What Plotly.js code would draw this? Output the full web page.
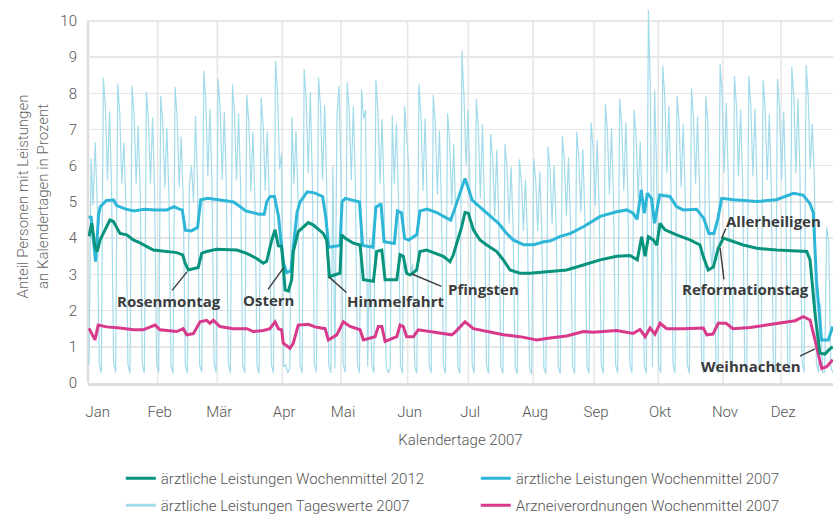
<!DOCTYPE html>
<html>
<head>
<meta charset="utf-8">
<script src="https://cdn.plot.ly/plotly-3.0.1.min.js"></script>
<style>html,body{margin:0;padding:0;background:#fff;}#chart{width:833px;height:519px;}</style>
</head>
<body>
<div id="chart"></div>
<script>
// ---- data (x = day of year 2007, 0 = 1 Jan) ----
const monthLabels = ['Jan','Feb','Mär','Apr','Mai','Jun','Jul','Aug','Sep','Okt','Nov','Dez'];
const monthTickDays = [3.3, 33.5, 62.6, 94.3, 123, 155.5, 185.1, 216.8, 246.5, 277.8, 309.4, 337.8];

const seriesNames = [
  'ärztliche Leistungen Wochenmittel 2012',
  'ärztliche Leistungen Wochenmittel 2007',
  'ärztliche Leistungen Tageswerte 2007',
  'Arzneiverordnungen Wochenmittel 2007'
];

// daily values 2007 (one per day, Mon..Sun per row)
const dailyValues2007 = [
  0.5, 6.2, 4.9, 6.65, 5.0, 0.5, 0.28,
  8.43, 7.6, 5.6, 7.5, 5.4, 0.55, 0.3,
  8.27, 7.45, 5.5, 6.65, 5.0, 0.5, 0.27,
  8.2, 7.4, 5.5, 7.1, 5.2, 0.5, 0.28,
  8.05, 7.25, 5.5, 7.33, 5.3, 0.52, 0.3,
  7.93, 7.15, 5.4, 7.05, 5.1, 0.5, 0.27,
  8.17, 7.35, 5.4, 6.8, 5.0, 0.48, 0.28,
  5.5, 6.0, 5.0, 7.37, 5.4, 0.5, 0.3,
  8.63, 7.8, 5.7, 7.57, 5.5, 0.55, 0.3,
  8.4, 7.6, 5.6, 7.48, 5.4, 0.52, 0.28,
  8.25, 7.45, 5.6, 7.45, 5.4, 0.5, 0.28,
  7.96, 7.2, 5.3, 6.93, 5.0, 0.48, 0.27,
  7.87, 7.1, 5.3, 6.95, 5.0, 0.5, 0.28,
  8.89, 8.0, 5.9, 6.35, 0.45, 0.5, 0.28,
  0.4, 7.34, 5.5, 6.96, 5.1, 0.5, 0.28,
  8.67, 7.8, 5.8, 8.03, 5.6, 0.52, 0.3,
  8.44, 7.6, 5.6, 7.67, 5.5, 0.5, 0.28,
  5.98, 0.4, 7.4, 8.2, 5.7, 0.52, 0.3,
  8.3, 7.5, 5.6, 7.65, 5.5, 0.5, 0.28,
  8.11, 7.3, 7.54, 0.45, 4.0, 0.5, 0.28,
  8.37, 7.5, 5.5, 7.29, 5.2, 0.5, 0.28,
  0.4, 7.4, 5.5, 7.17, 5.1, 0.5, 0.27,
  7.65, 6.9, 6.0, 3.0, 3.3, 0.45, 0.27,
  8.25, 7.4, 5.3, 7.31, 5.1, 0.5, 0.28,
  7.96, 7.15, 5.2, 6.97, 4.9, 0.48, 0.27,
  7.45, 6.7, 4.9, 6.6, 4.6, 0.45, 0.26,
  9.18, 7.9, 6.0, 7.54, 5.3, 0.5, 0.28,
  7.84, 7.05, 5.1, 7.15, 4.9, 0.48, 0.27,
  6.88, 6.2, 4.6, 6.44, 4.5, 0.45, 0.26,
  6.6, 5.95, 4.4, 5.98, 4.2, 0.42, 0.25,
  6.18, 5.6, 4.2, 5.61, 4.0, 0.42, 0.25,
  6.2, 5.6, 4.2, 5.84, 4.1, 0.42, 0.25,
  6.53, 5.9, 4.4, 6.0, 4.3, 0.44, 0.26,
  6.82, 6.15, 4.6, 6.22, 4.4, 0.45, 0.26,
  6.94, 6.25, 4.7, 6.46, 4.6, 0.46, 0.27,
  7.19, 6.5, 4.9, 6.71, 4.8, 0.48, 0.27,
  7.7, 6.95, 5.2, 7.04, 5.0, 0.5, 0.28,
  7.85, 7.1, 5.3, 7.2, 5.1, 0.5, 0.28,
  7.54, 6.8, 5.1, 6.67, 4.8, 0.48, 0.27,
  10.3, 8.0, 0.45, 8.09, 6.0, 0.5, 0.28,
  8.76, 7.9, 5.8, 7.65, 5.5, 0.52, 0.28,
  7.93, 7.15, 5.4, 7.15, 5.1, 0.5, 0.27,
  8.14, 7.35, 5.5, 7.36, 5.3, 0.5, 0.28,
  7.94, 7.2, 4.0, 3.2, 4.2, 0.45, 0.27,
  8.81, 7.95, 5.8, 7.73, 5.6, 0.52, 0.28,
  8.48, 7.65, 5.7, 7.56, 5.5, 0.5, 0.28,
  8.48, 7.65, 5.7, 7.57, 5.5, 0.5, 0.28,
  8.37, 7.55, 5.6, 7.43, 5.4, 0.5, 0.28,
  8.4, 7.6, 5.6, 7.5, 5.4, 0.52, 0.28,
  8.74, 7.9, 5.8, 7.85, 5.7, 0.55, 0.3,
  8.78, 7.9, 5.9, 7.15, 5.6, 0.55, 0.3,
  2.2, 0.3, 0.3, 4.3, 3.9, 0.45, 0.28
];

// weekly mean 2012 (green)
const wm2012Days = [0, 1.3, 2.9, 4, 5.4, 8.6, 10.2, 11.9, 13.5, 15.1, 18.4, 21.6, 24.9, 28.2, 31.4, 34.7, 39.5, 42.8, 45.7, 46.9, 48.5, 50.9, 53.3, 55, 57.4, 62.3, 67.2, 72.1, 77, 81.8, 85.1, 86.7, 89.2, 90.8, 92.4, 94, 94.8, 95.7, 97.3, 98.9, 99.7, 102.1, 107, 109.5, 114.3, 116, 117.3, 122.5, 123.3, 124.9, 129, 132.3, 133.9, 138.8, 140.4, 142.9, 144.5, 150.2, 151.8, 153.4, 155, 156.7, 159.9, 161.5, 164.8, 169.7, 172.9, 176.2, 177.8, 181.9, 183.5, 185.1, 187.6, 190.8, 194.1, 199, 202.2, 205.5, 210.3, 215.2, 225, 233.1, 241.3, 249.4, 257.5, 264, 267.6, 269.7, 271.4, 273, 275.4, 277.1, 278.7, 281.1, 286.8, 293.3, 298.2, 299.8, 302.2, 304.7, 307.1, 309.6, 319.3, 325.9, 335.6, 345.4, 350.3, 351.9, 354.3, 356.7, 359.2, 360.8, 363];
const wm2012Values = [4.05, 4.41, 3.77, 3.63, 3.95, 4.32, 4.5, 4.46, 4.3, 4.13, 4.09, 3.95, 3.87, 3.77, 3.67, 3.65, 3.63, 3.6, 3.54, 3.31, 3.12, 3.16, 3.19, 3.58, 3.63, 3.69, 3.69, 3.67, 3.58, 3.44, 3.31, 3.36, 3.95, 4.23, 3.79, 3.77, 3.21, 2.57, 2.54, 2.85, 3.63, 4.18, 4.43, 4.36, 4.13, 3.95, 2.94, 3.03, 4.09, 4.0, 3.86, 3.81, 2.85, 2.81, 3.63, 3.67, 2.85, 2.85, 3.54, 3.5, 3.03, 2.98, 3.12, 3.63, 3.67, 3.58, 3.5, 3.35, 3.54, 4.32, 4.71, 4.69, 4.23, 3.95, 3.81, 3.63, 3.4, 3.12, 3.03, 3.03, 3.07, 3.12, 3.26, 3.4, 3.5, 3.52, 3.4, 4.04, 3.5, 4.04, 3.95, 3.81, 4.41, 4.23, 4.09, 3.95, 3.81, 3.49, 3.12, 3.2, 3.72, 4.0, 3.81, 3.72, 3.67, 3.63, 3.63, 3.4, 1.93, 0.82, 0.8, 0.9, 1.0];

// weekly mean 2007 (cyan)
const wm2007Days = [0, 1, 3.2, 4.7, 5.5, 8.5, 12, 13.5, 18, 22, 27, 32, 38, 41.5, 44, 45.5, 47, 50, 53, 54.5, 58, 65, 70.5, 73, 76.5, 83, 85.5, 86.7, 88.4, 90.5, 92.5, 93.5, 95, 96.5, 98.5, 100, 101.5, 103, 106.5, 110, 114, 115.5, 117, 122.5, 123.5, 125, 129, 132, 133.5, 138.5, 140, 142.5, 144, 149, 150.5, 152.5, 154, 156, 160, 161.5, 165, 170, 173, 176.5, 177.5, 181.5, 183.5, 185, 187, 190, 193, 197, 200, 203.5, 207, 212, 217, 222, 225, 230, 235, 241.5, 249.5, 257.5, 262.5, 265.5, 267.5, 269.5, 271, 272.5, 274.5, 276, 278.5, 283.5, 286.7, 290, 296.5, 300, 302.5, 305, 307, 308.8, 314.5, 326, 335.5, 343.8, 348.5, 351.8, 353.5, 355, 357.5, 360.8, 363];
const wm2007Values = [4.55, 4.6, 3.35, 4.65, 4.87, 5.04, 5.05, 4.9, 4.8, 4.75, 4.8, 4.78, 4.78, 4.87, 4.8, 4.78, 4.22, 4.2, 4.3, 5.06, 5.1, 5.05, 5.0, 4.9, 4.75, 4.66, 4.66, 5.0, 5.15, 5.15, 4.6, 4.0, 3.3, 3.05, 3.1, 3.9, 4.7, 5.0, 5.28, 5.25, 5.15, 4.6, 3.75, 3.8, 5.0, 5.1, 5.05, 5.0, 3.8, 3.75, 4.85, 4.95, 3.9, 3.85, 4.75, 4.7, 4.0, 3.95, 4.1, 4.75, 4.8, 4.7, 4.6, 4.5, 4.65, 5.3, 5.65, 5.4, 5.05, 4.9, 4.75, 4.55, 4.4, 4.15, 3.95, 3.82, 3.82, 3.9, 3.92, 4.05, 4.13, 4.32, 4.6, 4.73, 4.78, 4.69, 4.52, 5.33, 4.69, 5.24, 5.1, 4.41, 5.19, 5.15, 4.87, 4.78, 4.8, 4.55, 4.13, 4.13, 4.56, 5.1, 5.06, 5.01, 5.06, 5.24, 5.19, 4.96, 4.7, 2.85, 1.19, 1.19, 1.56];

// Arzneiverordnungen weekly mean 2007 (magenta)
const arz2007Days = [0, 2.9, 4.5, 8.6, 15.1, 21.6, 26.4, 32.2, 34.7, 42.8, 46, 47.7, 50.9, 54.2, 57.4, 59, 60.7, 63.9, 70.4, 77, 80.2, 85.1, 88.3, 90.8, 92.4, 94, 94.8, 98.1, 99.7, 102.1, 107, 110.3, 115.2, 116.8, 120.9, 124.1, 127.4, 132.3, 133.9, 139.6, 141.2, 142.9, 144.5, 150.2, 151.8, 153.4, 155, 158.3, 160.7, 166.4, 172.9, 177, 178.6, 183.5, 187.6, 194.1, 202.2, 210.3, 218.5, 225, 233.1, 241.3, 246, 257.5, 265.6, 268.9, 271.4, 273.8, 276.2, 278.7, 281.9, 290, 299.8, 301.5, 304.5, 307.1, 310.9, 314.3, 322.6, 330.7, 338.9, 344.6, 348.6, 351.9, 354.3, 357.6, 360, 363];
const arz2007Values = [1.51, 1.19, 1.6, 1.55, 1.52, 1.47, 1.47, 1.6, 1.47, 1.42, 1.5, 1.33, 1.36, 1.69, 1.73, 1.65, 1.73, 1.56, 1.5, 1.5, 1.42, 1.45, 1.5, 1.69, 1.5, 1.47, 1.1, 0.96, 1.1, 1.6, 1.62, 1.55, 1.5, 1.19, 1.33, 1.69, 1.56, 1.47, 1.19, 1.28, 1.56, 1.56, 1.15, 1.28, 1.6, 1.56, 1.28, 1.28, 1.47, 1.42, 1.38, 1.33, 1.4, 1.69, 1.5, 1.42, 1.33, 1.28, 1.19, 1.24, 1.3, 1.42, 1.4, 1.45, 1.37, 1.48, 1.28, 1.52, 1.35, 1.65, 1.5, 1.5, 1.52, 1.33, 1.35, 1.65, 1.65, 1.5, 1.53, 1.6, 1.68, 1.72, 1.83, 1.74, 1.19, 0.4, 0.45, 0.64];

const holidayLabels = ['Rosenmontag', 'Ostern', 'Himmelfahrt', 'Pfingsten', 'Allerheiligen', 'Reformationstag', 'Weihnachten'];

// ---- chart ----
const colGreen = '#07937c', colCyan = '#2db6d7', colLight = '#a3dbeb', colMag = '#d8398a';
const dailyDays = dailyValues2007.map((v, i) => i);
const legFont = {family: 'Roboto', size: 15, color: '#555', weight: 300};

const traces = [
  {x: dailyDays, y: dailyValues2007, type: 'scatter', mode: 'lines', line: {color: colLight, width: 1.2}, showlegend: false, hoverinfo: 'skip'},
  {x: wm2007Days, y: wm2007Values, type: 'scatter', mode: 'lines', name: seriesNames[1], line: {color: colCyan, width: 3}, legend: 'legend', legendrank: 2},
  {x: arz2007Days, y: arz2007Values, type: 'scatter', mode: 'lines', name: seriesNames[3], line: {color: colMag, width: 3}, legend: 'legend2', legendrank: 2},
  {x: wm2012Days, y: wm2012Values, type: 'scatter', mode: 'lines', name: seriesNames[0], line: {color: colGreen, width: 3}, legend: 'legend', legendrank: 1},
  {x: [null], y: [null], type: 'scatter', mode: 'lines', name: seriesNames[2], line: {color: colLight, width: 3}, legend: 'legend2', legendrank: 1}
];

const shapes = monthTickDays.slice(1).map(d => ({
  type: 'line', xref: 'x', yref: 'y', x0: d, x1: d, y0: 0, y1: 10,
  line: {color: '#e6e6e6', width: 1.5}, layer: 'below'
}));
shapes.push({type: 'line', xref: 'paper', yref: 'y', x0: 0, x1: 0, y0: 0, y1: 10, line: {color: '#dedede', width: 2.5}, layer: 'below'});

const lblFont = {family: 'Open Sans', size: 15, color: '#3b3b3b', weight: 700};
const arrowCol = '#3b3b3b';
function arrow(x, y, ax, ay) {
  return {x: x, y: y, xref: 'x', yref: 'y', text: '', showarrow: true, arrowhead: 0, arrowwidth: 1.4, arrowcolor: arrowCol, ax: ax, ay: ay, standoff: 0, startstandoff: 0};
}
function label(t, x, y) {
  return {x: x, y: y, xref: 'x', yref: 'y', text: t, showarrow: false, font: lblFont, xanchor: 'center', yanchor: 'middle'};
}
const annotations = [
  arrow(47.8, 3.07, -16, 20), label(holidayLabels[0], 39.0, 2.27),
  arrow(94.9, 3.18, -16.5, 23), label(holidayLabels[1], 87.4, 2.29),
  arrow(117.1, 2.93, 19, 17), label(holidayLabels[2], 149.8, 2.27),
  arrow(157.6, 3.01, 31, 13), label(holidayLabels[3], 192.3, 2.6),
  arrow(308.7, 3.99, 5, -11.5), label(holidayLabels[4], 334.3, 4.48),
  arrow(308.0, 3.73, 4, 33), label(holidayLabels[5], 320.2, 2.6),
  arrow(354.3, 0.94, -16.5, 8), label(holidayLabels[6], 323.1, 0.47)
];

const legBase = {
  orientation: 'h', x: 0.044, xanchor: 'left', yanchor: 'top', yref: 'container',
  entrywidth: 310, entrywidthmode: 'pixels', font: legFont, traceorder: 'normal',
  bgcolor: 'rgba(0,0,0,0)'
};

const layout = {
  width: 833, height: 519,
  margin: {l: 88, r: 0, t: 10, b: 136},
  paper_bgcolor: '#fff', plot_bgcolor: '#fff',
  showlegend: true,
  xaxis: {
    range: [-0.5, 363.1], tickmode: 'array', tickvals: monthTickDays, ticktext: monthLabels,
    showgrid: false, zeroline: false, showline: true, linecolor: '#dedede', linewidth: 2.5,
    ticks: '', ticklabelstandoff: 13, ticklabelshift: 2,
    tickfont: {family: 'Roboto', size: 15, color: '#555', weight: 300},
    title: {text: 'Kalendertage 2007', font: {family: 'Roboto', size: 15, color: '#555', weight: 300}, standoff: 15},
    fixedrange: true
  },
  yaxis: {
    range: [0, 10.3], tickmode: 'array', tickvals: [0,1,2,3,4,5,6,7,8,9,10],
    showgrid: true, gridcolor: '#e6e6e6', gridwidth: 1.5, zeroline: false, showline: false,
    ticks: '', ticklabelstandoff: 10,
    tickfont: {family: 'Roboto', size: 15, color: '#555', weight: 300},
    title: {text: 'Anteil Personen mit Leistungen<br>an Kalendertagen in Prozent', font: {family: 'Roboto', size: 15, color: '#666', weight: 300}, standoff: 8},
    fixedrange: true
  },
  legend: Object.assign({}, legBase, {y: 0.1098}),
  legend2: Object.assign({}, legBase, {y: 0.0578}),
  shapes: shapes,
  annotations: annotations
};

Plotly.newPlot('chart', traces, layout, {displayModeBar: false, staticPlot: true});
</script>
</body>
</html>
